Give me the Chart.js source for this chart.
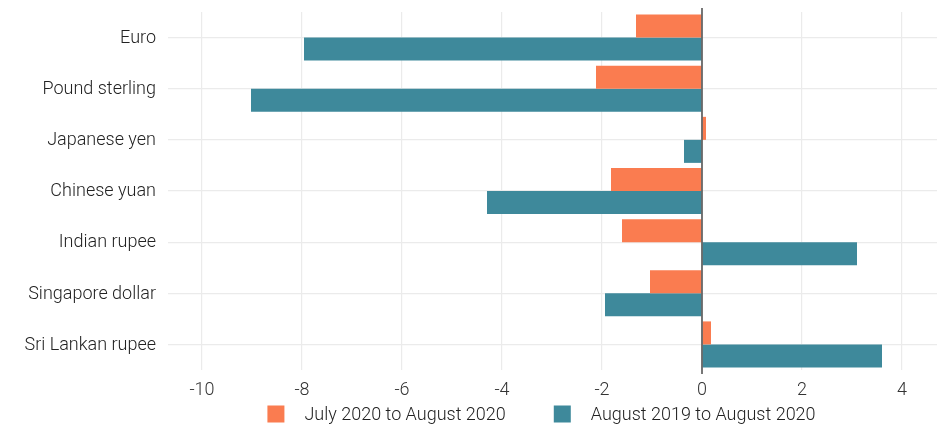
<!DOCTYPE html>
<html>
<head>
<meta charset="utf-8">
<title>Exchange rate changes</title>
<script src="https://cdn.jsdelivr.net/npm/chart.js@4"></script>
<style>
  html, body { margin: 0; padding: 0; background: #fff; }
  #chart { display: block; }
</style>
</head>
<body>
<canvas id="chart" width="942" height="428"></canvas>
<script>
const currencies = ['Euro', 'Pound sterling', 'Japanese yen', 'Chinese yuan', 'Indian rupee', 'Singapore dollar', 'Sri Lankan rupee'];
const monthChange = [-1.32, -2.12, 0.08, -1.82, -1.6, -1.04, 0.18];
const yearChange = [-7.96, -9.02, -0.36, -4.3, 3.1, -1.94, 3.6];
const xTicks = [-10, -8, -6, -4, -2, 0, 2, 4];

const fontFamily = "'Roboto Light', Roboto, 'Noto Sans', sans-serif";
const fontSize = 18;
const gridColor = '#EBEBEB';

// dark vertical line at zero, drawn over the bars
const zeroLine = {
    id: 'zeroLine',
    afterDatasetsDraw(chart) {
        const x = chart.scales.x.getPixelForValue(0);
        const area = chart.chartArea;
        const c = chart.ctx;
        c.save();
        c.strokeStyle = '#555555';
        c.lineWidth = 1.6;
        c.beginPath();
        c.moveTo(x, area.top - 4);
        c.lineTo(x, area.bottom + 4);
        c.stroke();
        c.restore();
    }
};

// bottom legend: square key, wider gaps than the built-in one
const bottomLegend = {
    id: 'bottomLegend',
    afterDraw(chart) {
        const c = chart.ctx;
        const box = 17, gapText = 20, gapItem = 48;
        c.save();
        c.font = '300 ' + fontSize + 'px ' + fontFamily;
        c.textBaseline = 'middle';
        const items = chart.data.datasets.map(ds => ({
            text: ds.label,
            color: ds.backgroundColor,
            w: c.measureText(ds.label).width
        }));
        let total = 0;
        items.forEach((it, i) => { total += box + gapText + it.w + (i ? gapItem : 0); });
        const area = chart.chartArea;
        let x = (area.left + area.right) / 2 - 11 - total / 2;
        const y = chart.height - 14;
        items.forEach(it => {
            c.fillStyle = it.color;
            c.fillRect(x, y - box / 2, box, box);
            c.fillStyle = '#222';
            c.fillText(it.text, x + box + gapText, y + 1);
            x += box + gapText + it.w + gapItem;
        });
        c.restore();
    }
};

new Chart(document.getElementById('chart').getContext('2d'), {
    type: 'bar',
    data: {
        labels: currencies,
        datasets: [{
            label: 'July 2020 to August 2020',
            data: monthChange,
            backgroundColor: '#FA7C50',
            categoryPercentage: 0.9,
            barPercentage: 1.0
        }, {
            label: 'August 2019 to August 2020',
            data: yearChange,
            backgroundColor: '#3E899B',
            categoryPercentage: 0.9,
            barPercentage: 1.0
        }]
    },
    options: {
        indexAxis: 'y',
        responsive: false,
        animation: false,
        devicePixelRatio: 1,
        layout: { padding: { top: 12, right: 5, left: 0, bottom: 30 } },
        plugins: {
            tooltip: { enabled: false },
            legend: { display: false }
        },
        scales: {
            x: {
                min: -10.68,
                max: 4.7,
                afterBuildTicks: function (scale) {
                    scale.ticks = xTicks.map(v => ({ value: v }));
                },
                afterFit: function (scale) { scale.height = 28; },
                grid: { color: gridColor, drawTicks: false, lineWidth: 1.2 },
                border: { display: false },
                ticks: {
                    padding: 9,
                    color: '#333',
                    font: { family: fontFamily, size: fontSize, weight: 300 }
                }
            },
            y: {
                afterFit: function (scale) {
                    scale.width = 168;
                    scale.paddingTop = 0;
                    scale.paddingBottom = 0;
                },
                grid: { color: gridColor, drawTicks: false, offset: false, lineWidth: 1.2 },
                border: { display: false },
                ticks: {
                    padding: 12,
                    color: '#222',
                    font: { family: fontFamily, size: fontSize, weight: 300 }
                }
            }
        }
    },
    plugins: [zeroLine, bottomLegend]
});
</script>
</body>
</html>
